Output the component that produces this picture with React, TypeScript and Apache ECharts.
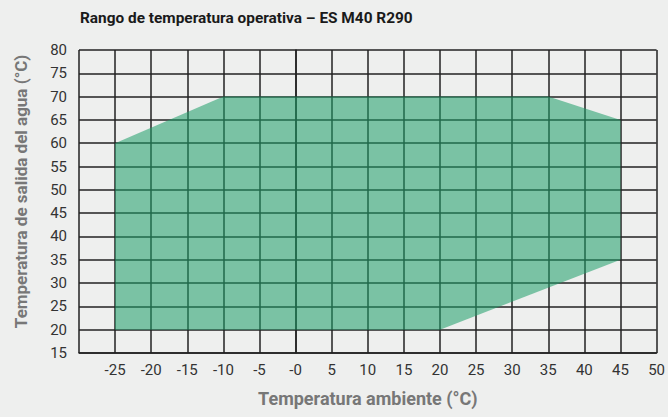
import React, { useEffect, useRef } from "react";
import * as echarts from "echarts";

const title = "Rango de temperatura operativa – ES M40 R290";
const xName = "Temperatura ambiente (°C)";
const yName = "Temperatura de salida del agua (°C)";

// Operating envelope polygon: ambient temperature (°C), water outlet temperature (°C)
const envelopeAmbient = [-25, -25, -10, 35, 45, 45, 20];
const envelopeWater = [20, 60, 70, 70, 65, 35, 20];

const xMin = -30;
const xMax = 50;
const xStep = 5;
const yMin = 15;
const yMax = 80;
const yStep = 5;

export default function App() {
  const ref = useRef<HTMLDivElement>(null);
  useEffect(() => {
    if (!ref.current) return;
    const chart = echarts.init(ref.current, null, { renderer: "svg" });
    const data = envelopeAmbient.map((x, i) => [x, envelopeWater[i]]);
    chart.setOption({
      animation: false,
      backgroundColor: "#eeefee",
      textStyle: { fontFamily: "Roboto" },
      title: {
        text: title,
        left: 80,
        top: 10,
        padding: 0,
        textStyle: { fontSize: 15.4, fontWeight: "bold", color: "#1a1a1a", fontFamily: "Roboto" },
      },
      grid: { left: 79, right: 7, top: 50, bottom: 64, containLabel: false },
      xAxis: {
        type: "value",
        min: xMin,
        max: xMax,
        interval: xStep,
        name: xName,
        nameLocation: "middle",
        nameGap: 36,
        nameTextStyle: { fontSize: 18, fontWeight: "bold", color: "#777777", fontFamily: "Roboto" },
        axisLine: { show: true, lineStyle: { color: "#222", width: 1.5 } },
        axisTick: { show: false },
        splitLine: { show: true, lineStyle: { color: "#222", width: 1.5 } },
        axisLabel: {
          fontSize: 15,
          color: "#333",
          margin: 9,
          formatter: (v: number) => (v === xMin ? "" : v === 0 ? "-0" : String(v)),
        },
      },
      yAxis: {
        type: "value",
        min: yMin,
        max: yMax,
        interval: yStep,
        name: yName,
        nameLocation: "middle",
        nameGap: 50,
        nameTextStyle: {
          fontSize: 17,
          fontWeight: "bold",
          color: "#777777",
          fontFamily: "Roboto",
          padding: [0, 0, 0, 20],
        },
        axisLine: { show: true, lineStyle: { color: "#222", width: 1.5 } },
        axisTick: { show: false },
        splitLine: { show: true, lineStyle: { color: "#222", width: 1.5 } },
        axisLabel: { fontSize: 15, color: "#333", margin: 12 },
      },
      series: [
        {
          type: "custom",
          data: data,
          renderItem: (params: any, api: any) => {
            if (params.dataIndex !== 0) return null;
            const pts = data.map((d) => api.coord(d));
            return {
              type: "polygon",
              shape: { points: pts },
              style: { fill: "#1f9e69", opacity: 0.56 },
            };
          },
        },
      ],
    });
    return () => chart.dispose();
  }, []);
  return <div ref={ref} style={{ width: 668, height: 417, position: "absolute", left: 0, top: 0 }} />;
}
